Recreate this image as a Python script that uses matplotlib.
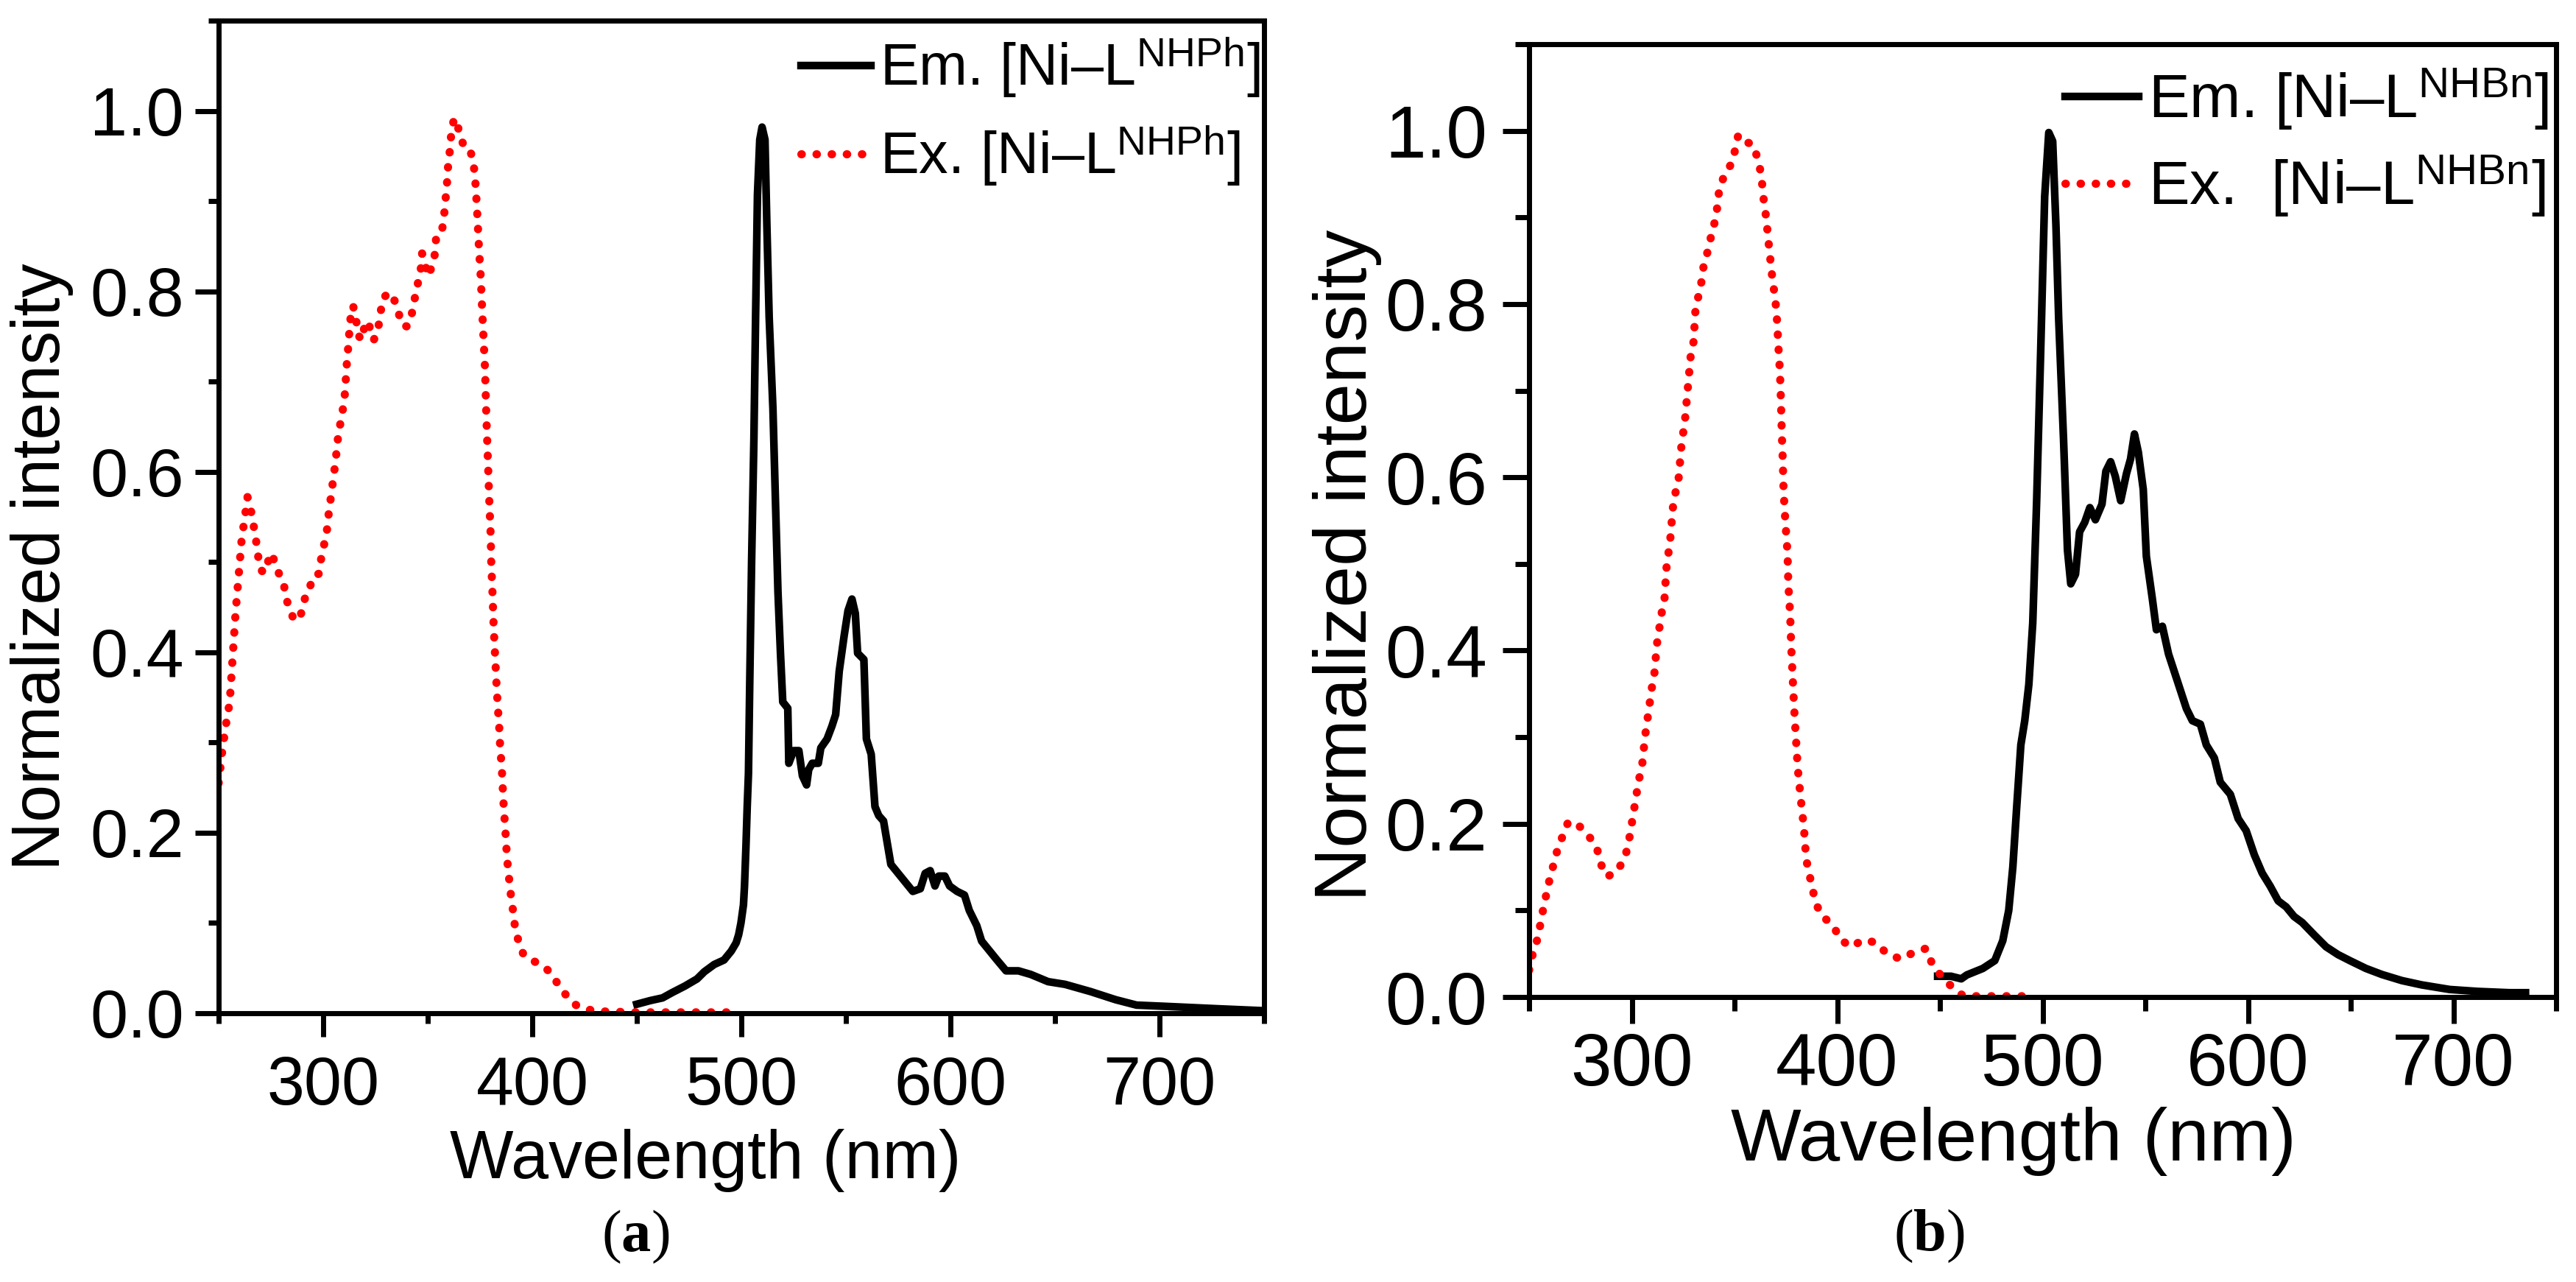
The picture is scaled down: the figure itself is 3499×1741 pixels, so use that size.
import matplotlib
matplotlib.use("Agg")
import matplotlib.pyplot as plt
from matplotlib.ticker import MultipleLocator
from matplotlib import _mathtext

plt.rcParams['font.family'] = ['Liberation Sans', 'DejaVu Sans']
plt.rcParams['mathtext.fontset'] = 'custom'
plt.rcParams['mathtext.rm'] = 'Liberation Sans'
plt.rcParams['mathtext.bf'] = 'Liberation Serif:bold'
# the superscripts in the original sit a bit lower than mathtext's default
_mathtext.FontConstantsBase.sup1 = 0.58

# ---- panel (a): [Ni-L^NHPh] ----
ex_a_nm = [250.0, 251.7, 253.5, 255.3, 256.7, 258.1, 259.9, 261.1, 262.2, 263.8, 265.2, 266.2,
           267.1, 268.0, 268.8, 269.7, 271.5, 273.7, 275.3, 277.1, 279.2, 281.2, 282.3, 284.1,
           285.9, 288.6, 290.4, 291.8, 293.6, 295.4, 297.9, 298.8, 299.9, 301.2, 302.1, 302.6,
           303.5, 304.2, 305.1, 306.0, 306.6, 307.3, 308.4, 309.6, 310.5, 310.9, 311.4, 312.0,
           312.5, 313.1, 314.3, 315.8, 316.5, 318.2, 319.7, 321.8, 322.7, 324.2, 326.3, 327.4,
           328.5, 331.5, 334.6, 336.2, 337.5, 340.1, 342.3, 343.4, 344.6, 345.7, 347.0, 347.3,
           348.9, 350.0, 352.4, 353.6, 354.0, 356.3, 357.6, 358.1, 358.8, 359.4, 359.8, 360.7,
           361.2, 362.5, 364.3, 364.8, 366.8, 369.6, 371.6, 372.5, 373.0, 373.8, 374.5, 375.4,
           376.0, 376.7, 377.4, 378.0, 378.5, 379.0, 379.5, 380.1, 380.4, 381.0, 381.5, 382.2,
           382.9, 383.5, 384.3, 384.6, 385.2, 385.7, 386.0, 386.4, 386.9, 387.4, 387.8, 388.4,
           389.1, 389.9, 390.7, 391.3, 392.3, 393.7, 395.8, 400.5, 405.4, 408.7, 411.5, 414.0,
           417.4, 421.5, 426.5, 434.0, 450.0, 475.0, 499.0]
ex_a_val = [0.255, 0.290, 0.320, 0.345, 0.395, 0.444, 0.494, 0.528, 0.544, 0.572, 0.560, 0.548,
            0.535, 0.522, 0.508, 0.493, 0.488, 0.501, 0.510, 0.498, 0.485, 0.475, 0.459, 0.448,
            0.436, 0.437, 0.450, 0.466, 0.472, 0.485, 0.487, 0.501, 0.514, 0.527, 0.540, 0.553,
            0.569, 0.581, 0.597, 0.613, 0.628, 0.642, 0.656, 0.672, 0.689, 0.706, 0.723, 0.739,
            0.755, 0.771, 0.784, 0.768, 0.753, 0.746, 0.760, 0.767, 0.752, 0.746, 0.759, 0.776,
            0.792, 0.799, 0.788, 0.775, 0.763, 0.761, 0.774, 0.788, 0.801, 0.814, 0.829, 0.842,
            0.829, 0.817, 0.829, 0.844, 0.860, 0.864, 0.876, 0.892, 0.909, 0.925, 0.942, 0.958,
            0.974, 0.991, 0.989, 0.976, 0.964, 0.961, 0.946, 0.930, 0.914, 0.881, 0.848, 0.814,
            0.781, 0.748, 0.714, 0.664, 0.631, 0.597, 0.564, 0.530, 0.497, 0.464, 0.430, 0.397,
            0.364, 0.340, 0.313, 0.297, 0.278, 0.260, 0.243, 0.227, 0.210, 0.193, 0.176, 0.160,
            0.145, 0.128, 0.115, 0.102, 0.090, 0.077, 0.065, 0.058, 0.052, 0.045, 0.035, 0.027,
            0.016, 0.008, 0.004, 0.002, 0.001, 0.001, 0.001]

em_a_nm = [450.0, 456.4, 462.3, 467.0, 472.9, 478.8, 482.3, 487.0, 491.7, 495.2, 497.5, 498.7,
           499.8, 501.0, 501.5, 502.2, 502.8, 503.4, 504.0, 504.9, 506.0, 506.8, 507.7, 508.8,
           509.9, 511.3, 512.2, 513.3, 515.1, 516.3, 517.5, 518.7, 519.8, 522.2, 522.7, 525.0,
           527.5, 529.2, 531.2, 532.2, 533.9, 536.8, 538.0, 541.0, 543.3, 545.1, 546.8, 549.2,
           551.0, 552.9, 554.5, 555.6, 558.6, 559.8, 562.1, 563.9, 565.7, 568.0, 571.5, 575.0,
           578.5, 582.0, 585.6, 587.9, 590.3, 592.6, 594.4, 597.3, 599.6, 603.2, 606.7, 609.0,
           612.6, 614.9, 618.4, 621.9, 626.6, 632.5, 638.4, 646.7, 654.8, 667.0, 679.0, 689.0,
           703.0, 727.5, 747.6]
em_a_val = [0.010, 0.014, 0.017, 0.023, 0.030, 0.038, 0.046, 0.054, 0.059, 0.069, 0.078, 0.087,
            0.100, 0.120, 0.141, 0.185, 0.229, 0.266, 0.365, 0.501, 0.636, 0.771, 0.907, 0.968,
            0.982, 0.968, 0.873, 0.771, 0.670, 0.568, 0.467, 0.399, 0.345, 0.338, 0.277, 0.291,
            0.291, 0.263, 0.253, 0.270, 0.277, 0.277, 0.294, 0.304, 0.318, 0.331, 0.379, 0.419,
            0.446, 0.459, 0.443, 0.399, 0.392, 0.304, 0.287, 0.229, 0.219, 0.213, 0.165, 0.155,
            0.145, 0.135, 0.138, 0.155, 0.158, 0.141, 0.152, 0.152, 0.141, 0.135, 0.131, 0.114,
            0.097, 0.080, 0.070, 0.060, 0.047, 0.047, 0.043, 0.035, 0.032, 0.024, 0.015, 0.009,
            0.0076, 0.005, 0.003]

# ---- panel (b): [Ni-L^NHBn] ----
ex_b_nm = [250.0, 251.8, 254.2, 256.9, 258.5, 260.0, 263.8, 266.5, 269.0, 273.3, 278.8, 283.1,
           284.8, 288.0, 292.8, 296.7, 298.5, 301.0, 303.3, 305.0, 306.5, 308.6, 309.5, 310.9,
           312.2, 314.5, 315.9, 316.8, 318.7, 320.0, 321.4, 322.8, 324.1, 326.0, 327.3, 328.7,
           330.1, 331.0, 332.6, 334.2, 335.1, 337.4, 338.8, 341.0, 342.6, 345.1, 349.0, 351.8,
           355.2, 358.6, 360.9, 362.5, 363.6, 364.3, 365.4, 366.1, 366.8, 367.6, 368.4, 369.4,
           370.3, 370.8, 371.2, 371.6, 372.1, 372.6, 373.0, 373.5, 373.9, 374.8, 375.8, 376.2,
           377.1, 377.6, 378.3, 379.0, 379.9, 380.8, 382.2, 383.8, 384.9, 386.5, 388.1, 390.0,
           392.5, 398.2, 401.3, 406.6, 412.8, 418.5, 424.3, 430.7, 437.8, 443.2, 446.1, 450.4,
           455.7, 461.5, 470.0, 480.0, 492.7]
ex_b_val = [0.031, 0.050, 0.068, 0.102, 0.120, 0.136, 0.170, 0.187, 0.202, 0.200, 0.187, 0.171,
            0.154, 0.139, 0.145, 0.161, 0.179, 0.215, 0.249, 0.267, 0.302, 0.337, 0.354, 0.371,
            0.407, 0.443, 0.459, 0.494, 0.528, 0.565, 0.584, 0.599, 0.635, 0.669, 0.704, 0.741,
            0.757, 0.794, 0.811, 0.829, 0.847, 0.864, 0.881, 0.900, 0.933, 0.949, 0.964, 0.995,
            0.987, 0.985, 0.971, 0.955, 0.936, 0.918, 0.900, 0.883, 0.866, 0.848, 0.830, 0.813,
            0.795, 0.777, 0.759, 0.741, 0.723, 0.689, 0.653, 0.619, 0.584, 0.547, 0.513, 0.477,
            0.441, 0.405, 0.370, 0.335, 0.299, 0.264, 0.230, 0.195, 0.159, 0.141, 0.123, 0.106,
            0.094, 0.082, 0.067, 0.058, 0.066, 0.063, 0.050, 0.044, 0.052, 0.056, 0.039, 0.025,
            0.012, 0.001, 0.001, 0.001, 0.001]

em_b_nm = [448.9, 455.4, 460.4, 463.1, 470.9, 476.7, 480.6, 483.5, 485.5, 487.4, 489.4, 491.3,
           493.3, 495.2, 497.1, 499.1, 501.0, 503.0, 504.9, 506.5, 507.8, 510.2, 512.1, 513.7,
           516.0, 518.0, 520.5, 523.0, 525.7, 528.9, 530.8, 533.1, 535.4, 538.0, 540.8, 542.8,
           544.7, 546.6, 549.0, 550.5, 553.4, 555.4, 558.3, 561.3, 564.2, 567.1, 570.0, 572.9,
           576.8, 579.7, 583.6, 586.5, 591.4, 595.2, 599.1, 603.1, 606.9, 610.8, 614.7, 618.6,
           622.4, 626.4, 632.1, 638.0, 643.8, 649.6, 657.4, 665.2, 674.9, 684.6, 698.2, 711.8,
           727.3, 735.1]
em_b_val = [0.024, 0.024, 0.021, 0.0255, 0.033, 0.042, 0.065, 0.100, 0.150, 0.220, 0.291, 0.319,
            0.361, 0.432, 0.573, 0.749, 0.924, 0.998, 0.988, 0.890, 0.784, 0.643, 0.516, 0.477,
            0.488, 0.537, 0.548, 0.565, 0.551, 0.569, 0.607, 0.618, 0.601, 0.573, 0.604, 0.621,
            0.650, 0.629, 0.586, 0.509, 0.460, 0.424, 0.428, 0.396, 0.375, 0.354, 0.333, 0.319,
            0.315, 0.291, 0.276, 0.248, 0.234, 0.206, 0.192, 0.164, 0.143, 0.128, 0.111, 0.104,
            0.093, 0.086, 0.072, 0.058, 0.049, 0.042, 0.033, 0.026, 0.019, 0.014, 0.0087, 0.0065,
            0.005, 0.005]

labels_a = [r'Em. [Ni–L$^{\mathregular{NHPh}}$]', r'Ex. [Ni–L$^{\mathregular{NHPh}}$]']
labels_b = [r'Em. [Ni–L$^{\mathregular{NHBn}}$]', r'Ex.  [Ni–L$^{\mathregular{NHBn}}$]']

W, H = 3499, 1741
fig = plt.figure(figsize=(W / 100, H / 100), dpi=100)


def box(l, t, r, b):
    return (l / W, 1 - b / H, (r - l) / W, (b - t) / H)


axA = fig.add_axes(box(297, 28, 1717, 1376))
axB = fig.add_axes(box(2077, 60, 3472, 1354))

dots = (0, (0.05, 1.8))


def draw(ax, em_x, em_y, ex_x, ex_y, labels, fs, lfs, maj, mnr, xpad, ypad, anchor, lspace):
    ax.plot(em_x, em_y, color='black', lw=7.5, solid_joinstyle='round', label=labels[0])
    ax.plot(ex_x, ex_y, color='#ff0000', lw=8, linestyle=dots, dash_capstyle='round',
            label=labels[1])
    ax.set_xlim(250, 750)
    ax.set_ylim(0, 1.1)
    ax.xaxis.set_major_locator(MultipleLocator(100))
    ax.xaxis.set_minor_locator(MultipleLocator(50))
    ax.yaxis.set_major_locator(MultipleLocator(0.2))
    ax.yaxis.set_minor_locator(MultipleLocator(0.1))
    for s in ax.spines.values():
        s.set_linewidth(5)
    ax.tick_params(which='both', direction='out', width=5, top=False, right=False)
    ax.tick_params(which='major', length=maj)
    ax.tick_params(which='minor', length=mnr)
    ax.tick_params(axis='x', which='major', labelsize=fs, pad=xpad)
    ax.tick_params(axis='y', which='major', labelsize=fs, pad=ypad)
    leg = ax.legend(loc='upper left', bbox_to_anchor=anchor, frameon=False, fontsize=lfs,
                    handlelength=1.2, handletextpad=0.15, labelspacing=lspace, borderpad=0,
                    borderaxespad=0)
    return leg


draw(axA, em_a_nm, em_a_val, ex_a_nm, ex_a_val, labels_a, 66, 57, 23, 10, 18, 11,
     (0.557, 0.9845), 0.42)
draw(axB, em_b_nm, em_b_val, ex_b_nm, ex_b_val, labels_b, 72, 60, 26, 13.5, 8, 15,
     (0.522, 0.976), 0.35)

# axis titles
fig.text(958 / W, 1 - 1576 / H, 'Wavelength (nm)', fontsize=66, ha='center', va='center')
fig.text(57 / W, 1 - 770 / H, 'Normalized intensity', fontsize=66, rotation=90,
         ha='center', va='center')
fig.text(2735 / W, 1 - 1550 / H, 'Wavelength (nm)', fontsize=73, ha='center', va='center')
fig.text(1830 / W, 1 - 768 / H, 'Normalized intensity', fontsize=73, rotation=90,
         ha='center', va='center')

# sub-figure captions
fig.text(863 / W, 1 - 1680 / H, r'($\mathbf{a}$)', fontsize=58, family='Liberation Serif',
         ha='center', va='center')
fig.text(2620 / W, 1 - 1679 / H, r'($\mathbf{b}$)', fontsize=58, family='Liberation Serif',
         ha='center', va='center')

fig.savefig('out.png', dpi=100)
